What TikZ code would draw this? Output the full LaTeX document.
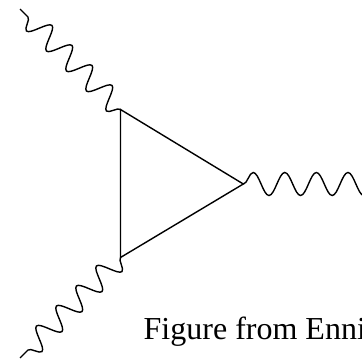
\documentclass[tikz,border=0pt]{standalone}
\usepackage{fontspec}
\setmainfont{Liberation Serif}
\usetikzlibrary{decorations.pathmorphing}
\begin{document}
\begin{tikzpicture}[x=1pt,y=-1pt,line width=1.4pt,
  photon/.style={decorate,decoration={snake,amplitude=11pt,segment length=28.3pt}},
  photonr/.style={decorate,decoration={snake,amplitude=11.5pt,segment length=31.6pt}},
  caption/.style={anchor=base west,inner sep=0pt,font=\fontsize{32}{38}\selectfont}]
\useasboundingbox (0,0) rectangle (362,361);
\coordinate (t) at (120.5,109.5);
\coordinate (b) at (120.5,257.5);
\coordinate (r) at (243.3,184);
\coordinate (e1) at (20.1,9.1);
\coordinate (e2) at (20.1,357.9);
\coordinate (e3) at (401.5,184);
\draw[line join=miter] (t) -- (r) -- (b) -- cycle;
\draw[photon] (t) -- (e1);
\draw[photon] (b) -- (e2);
\draw[photonr] (r) -- (e3);
\node[caption] (cap) at (143,339) {Figure from Enni};
\end{tikzpicture}
\end{document}
